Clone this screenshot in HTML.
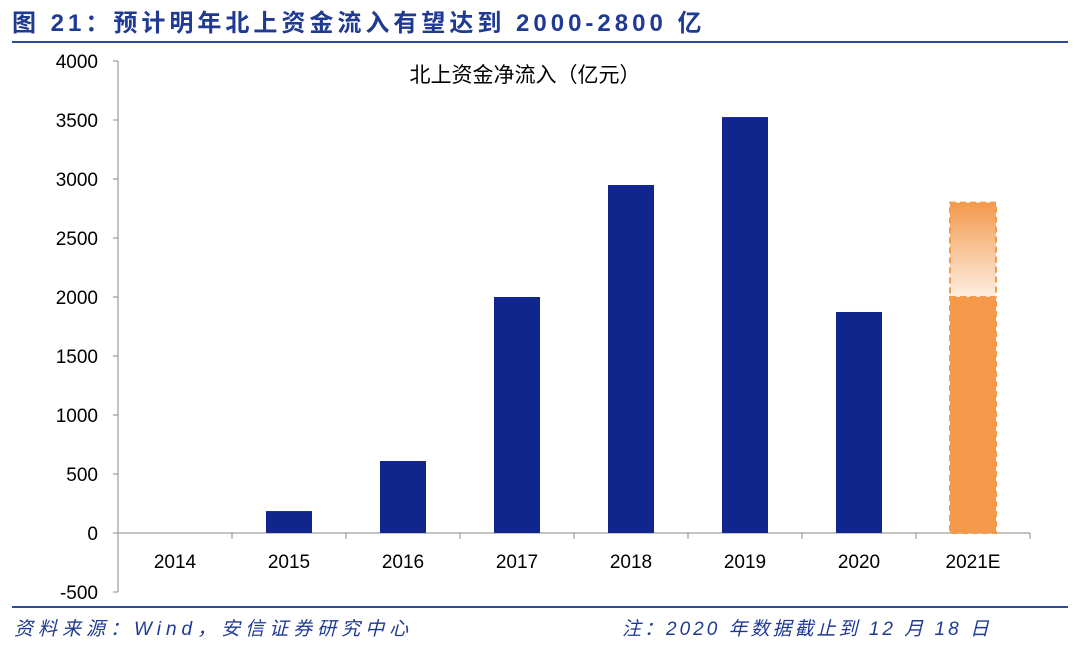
<!DOCTYPE html>
<html><head><meta charset="utf-8"><style>
body{margin:0;width:1080px;height:647px;background:#fff;overflow:hidden;font-family:"Liberation Sans","Noto Sans CJK SC",sans-serif;}
svg{display:block}
</style></head><body>
<svg id="chart" width="1080" height="647">
<defs><linearGradient id="g" x1="0" y1="0" x2="0" y2="1"><stop offset="0" stop-color="#f39a4c"/><stop offset="1" stop-color="#fdeee2"/></linearGradient></defs>
<text x="12" y="31" font-size="24" font-weight="bold" letter-spacing="4" fill="#1f3a93">图 21：预计明年北上资金流入有望达到 2000-2800 亿</text>
<rect x="12" y="41" width="1056" height="2" fill="#2f4a9a"/>
<text x="525" y="82" font-size="21" text-anchor="middle" fill="#000">北上资金净流入（亿元）</text>
<g id="axes"></g><g id="bars"></g>
<rect x="12" y="606" width="1056" height="2" fill="#2f4a9a"/>
<text x="14" y="635" font-size="19" font-style="italic" letter-spacing="5" fill="#1f3a93">资料来源：Wind，安信证券研究中心</text>
<text x="622" y="635" font-size="19" font-style="italic" letter-spacing="3" fill="#1f3a93">注：2020 年数据截止到 12 月 18 日</text>
</svg>
<script>
const categories=["2014","2015","2016","2017","2018","2019","2020","2021E"];
const values=[0,186,610,2000,2949,3525,1873,2000];
const forecastHigh=[null,null,null,null,null,null,null,2800];
const yTicks=[-500,0,500,1000,1500,2000,2500,3000,3500,4000];
const NS="http://www.w3.org/2000/svg";
const x0=118,x1=1030,yTop=61,yBot=592,vMin=-500,vMax=4000;
const y=v=>yBot-(v-vMin)/(vMax-vMin)*(yBot-yTop);
const band=(x1-x0)/categories.length;
const xc=i=>x0+band*(i+0.5);
function mk(tag,attrs,parent){const e=document.createElementNS(NS,tag);for(const k in attrs)e.setAttribute(k,attrs[k]);parent.appendChild(e);return e;}
const ax=document.getElementById("axes"),bg=document.getElementById("bars");
let l=mk("line",{x1:x0,y1:yTop,x2:x0,y2:yBot,stroke:"#888"},ax);


yTicks.forEach(t=>{
 const tk=mk("line",{x1:x0-5,y1:y(t),x2:x0,y2:y(t),stroke:"#888"},ax);
 
 
 const tx=mk("text",{x:x0-20,y:y(t)+7,"font-size":19,"text-anchor":"end",fill:"#000"},ax);
 tx.textContent=t;
 
 
});
l=mk("line",{x1:x0,y1:y(0),x2:x1,y2:y(0),stroke:"#888"},ax);


categories.forEach((c,i)=>{
 const tk=mk("line",{x1:x0+band*(i+1),y1:y(0),x2:x0+band*(i+1),y2:y(0)+6,stroke:"#888"},ax);
 
 
 const tx=mk("text",{x:xc(i),y:y(0)+35,"font-size":19,"text-anchor":"middle",fill:"#000"},ax);
 tx.textContent=c;
 
 
 const w=46,fc=forecastHigh[i]!=null;
 if(fc){
  const r2=mk("rect",{x:xc(i)-w/2,y:y(forecastHigh[i]),width:w,height:y(values[i])-y(forecastHigh[i]),fill:"url(#g)",stroke:"#f39a4c","stroke-width":2,"stroke-dasharray":"6,4"},bg);
  
  
 }
 const r=mk("rect",{x:xc(i)-w/2,y:y(Math.max(values[i],0)),width:w,height:Math.abs(y(0)-y(values[i])),fill:fc?"#f59a4a":"#10268c"},bg);
 
 
 if(fc){const d=mk("rect",{x:xc(i)-w/2,y:y(values[i]),width:w,height:y(0)-y(values[i]),fill:"none",stroke:"#f59a4a","stroke-width":2,"stroke-dasharray":"6,4"},bg);
 
 }
});
</script>
</body></html>
